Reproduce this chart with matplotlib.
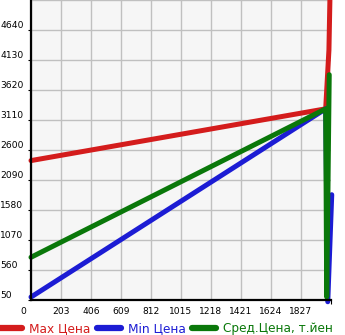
import matplotlib
matplotlib.use("Agg")
import matplotlib.pyplot as plt
from matplotlib.transforms import ScaledTranslation

# values
x_ticks = [0, 203, 406, 609, 812, 1015, 1218, 1421, 1624, 1827]
y_ticks = [50, 560, 1070, 1580, 2090, 2600, 3110, 3620, 4130, 4640]

max_x = [0, 1994, 2016, 2026]
max_y = [2420, 3300, 4300, 5600]
min_x = [0, 1994, 2008, 2035]
min_y = [100, 3300, 20, 1840]
avg_x = [0, 1994, 2001, 2018]
avg_y = [776, 3300, 100, 3880]

labels = ["Max Цена", "Min Цена", "Сред.Цена, т.йен"]
colors = ["#d41c1c", "#1c1cd4", "#0a780a"]

fig = plt.figure(figsize=(3.45, 3.35), dpi=100)
ax = fig.add_axes([31/345, 1 - 300/335, 300/345, 300/335])
ax.set_facecolor("#f6f6f6")

lw = 3.6
for xs, ys, lab, c in zip([max_x, min_x, avg_x], [max_y, min_y, avg_y], labels, colors):
    ax.plot(xs, ys, color=c, lw=lw, label=lab, solid_capstyle="round",
            solid_joinstyle="round", clip_on=False)

ax.set_xlim(0, 2030)
ax.set_ylim(50, 5150)
ax.set_xticks(x_ticks)
ax.set_yticks(y_ticks)
ax.set_xticks([2030], minor=True)
ax.grid(True, color="#c0c0c0", lw=1)
ax.set_axisbelow(True)
ax.axhline(5150, color="#c0c0c0", lw=1, zorder=0)

for s in ["top", "right"]:
    ax.spines[s].set_visible(False)
for s in ["left", "bottom"]:
    ax.spines[s].set_linewidth(1.6)
    ax.spines[s].set_color("black")

ax.tick_params(axis="y", length=2.5, width=0.8, labelsize=6.6, pad=19.5)
ax.tick_params(axis="x", length=0, labelsize=6.6, pad=5)
ax.tick_params(axis="x", which="minor", length=3, width=0.8)
for lab in ax.get_yticklabels():
    lab.set_ha("left")
    lab.set_va("bottom")
for lab in ax.get_xticklabels():
    if lab.get_text() == "0":
        lab.set_transform(lab.get_transform() + ScaledTranslation(-8/100, 0, fig.dpi_scale_trans))

leg = fig.legend(loc="lower left", bbox_to_anchor=(-0.03, -0.025), ncol=3, frameon=False,
                 fontsize=8.7, handlelength=2.0, handletextpad=0.55, columnspacing=0.55,
                 borderpad=0.2)
for t, c in zip(leg.get_texts(), colors):
    t.set_color(c)
for h in leg.get_lines():
    h.set_linewidth(4.5)
    h.set_solid_capstyle("round")

fig.savefig("out.png", dpi=100)
